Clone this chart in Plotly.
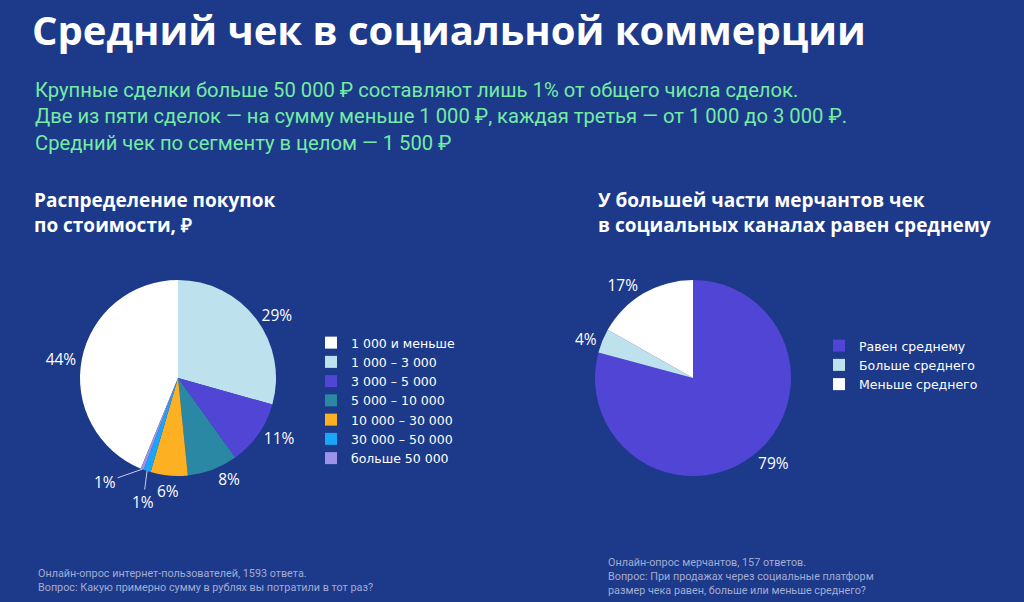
import math
import plotly.graph_objects as go

# chart data
price_labels = ['1 000 и меньше', '1 000 – 3 000', '3 000 – 5 000', '5 000 – 10 000',
                '10 000 – 30 000', '30 000 – 50 000', 'больше 50 000']
price_values = [43.7, 29.3, 10.7, 8.3, 6.1, 1.2, 0.5]
price_text = ['44%', '29%', '11%', '8%', '6%', '1%', '1%']
price_colors = ['#ffffff', '#bde2ee', '#5145d6', '#2a88a4', '#fcb022', '#19a6f6', '#9d91e9']

check_labels = ['Равен среднему', 'Больше среднего', 'Меньше среднего']
check_values = [79.2, 4.0, 16.8]
check_text = ['79%', '4%', '17%']
check_colors = ['#5145d6', '#bde2ee', '#ffffff']

BG = '#1c398a'
W, H = 1024, 602
PCT_FONT = dict(color='white', size=15.5, family='Open Sans')

# pie geometry in pixels
R = 98
C1 = (178, 378)
C2 = (693, 378)

def px_x(v):
    return v / W

def px_y(v):
    return 1 - v / H

def domain(c):
    return dict(x=[px_x(c[0] - R), px_x(c[0] + R)], y=[px_y(c[1] + R), px_y(c[1] - R)])

fig = go.Figure()

# first slice (white) ends at 12 o'clock, going clockwise
total = sum(price_values)
rot = -price_values[0] / total * 360

# labels of the smallest slices are placed by hand (with leader lines)
manual = [i for i, v in enumerate(price_values) if v < 7 and i > 0]

fig.add_trace(go.Pie(
    labels=price_labels, values=price_values, text=price_text,
    textinfo='text', sort=False, direction='clockwise', rotation=rot,
    textposition=['none' if i in manual else 'outside' for i in range(len(price_values))],
    marker=dict(colors=price_colors, line=dict(width=0)),
    textfont=PCT_FONT, outsidetextfont=PCT_FONT,
    domain=domain(C1), legend='legend', hoverinfo='label+percent',
))

fig.add_trace(go.Pie(
    labels=check_labels, values=check_values, text=check_text,
    textinfo='text', textposition='outside', sort=False,
    direction='clockwise', rotation=0,
    marker=dict(colors=check_colors, line=dict(width=0)),
    textfont=PCT_FONT, outsidetextfont=PCT_FONT,
    domain=domain(C2), legend='legend2', hoverinfo='label+percent',
))

annotations = []

def add_text(x, y, text, size, color='white', bold=False, family='Open Sans'):
    if bold:
        text = '<b>' + text + '</b>'
    annotations.append(dict(
        x=px_x(x), y=px_y(y), xref='paper', yref='paper',
        xanchor='left', yanchor='top', align='left', showarrow=False,
        text=text, font=dict(size=size, color=color, family=family),
    ))

# hand placed labels for the small slices: (radius factor, ax, ay) per slice
label_offsets = {4: (1.16, None, None), 5: (1.0, -4, 31), 6: (1.0, -37, 13)}
cum = 0
for i, v in enumerate(price_values):
    mid = math.radians(rot + (cum + v / 2) / total * 360)
    cum += v
    if i not in manual:
        continue
    k, ax, ay = label_offsets[i]
    x = C1[0] + k * R * math.sin(mid)
    y = C1[1] - k * R * math.cos(mid)
    ann = dict(x=px_x(x), y=px_y(y), xref='paper', yref='paper',
               text=price_text[i], font=PCT_FONT)
    if ax is None:
        ann.update(showarrow=False, xanchor='center', yanchor='middle')
    else:
        ann.update(showarrow=True, ax=ax, ay=ay, arrowhead=0, arrowwidth=1,
                   arrowcolor='#c9cfe4', standoff=0)
    annotations.append(ann)

add_text(30, 0, 'Средний чек в социальной коммерции', 40, bold=True)
add_text(33, 76,
         'Крупные сделки больше 50 000 ₽ составляют лишь 1% от общего числа сделок.<br>'
         'Две из пяти сделок — на сумму меньше 1 000 ₽, каждая третья — от 1 000 до 3 000 ₽.<br>'
         'Средний чек по сегменту в целом — 1 500 ₽',
         20.2, color='#74eca2', family='Roboto')
add_text(32, 185, 'Распределение покупок<br>по стоимости, ₽', 19, bold=True)
add_text(596, 185, 'У большей части мерчантов чек<br>в социальных каналах равен среднему', 19, bold=True)
add_text(36, 565, 'Онлайн-опрос интернет-пользователей, 1593 ответа.<br>'
                  'Вопрос: Какую примерно сумму в рублях вы потратили в тот раз?',
         10.8, color='#a3acd2', family='Liberation Sans Narrow, Roboto')
add_text(606, 554, 'Онлайн-опрос мерчантов, 157 ответов.<br>'
                   'Вопрос: При продажах через социальные платформ<br>'
                   'размер чека равен, больше или меньше среднего?',
         10.8, color='#a3acd2', family='Liberation Sans Narrow, Roboto')

fig.update_layout(
    width=W, height=H,
    margin=dict(l=0, r=0, t=0, b=0),
    paper_bgcolor=BG, plot_bgcolor=BG,
    annotations=annotations,
    legend=dict(x=px_x(311), y=px_y(328), xanchor='left', yanchor='top',
                font=dict(color='white', size=12.5, family='DejaVu Sans'),
                bgcolor='rgba(0,0,0,0)', itemclick=False),
    legend2=dict(x=px_x(819), y=px_y(331), xanchor='left', yanchor='top',
                 font=dict(color='white', size=12.5, family='DejaVu Sans'),
                 bgcolor='rgba(0,0,0,0)', itemclick=False),
)

fig.write_html('out.html', config={'displayModeBar': False},
               post_script="document.body.style.margin = '0';")
